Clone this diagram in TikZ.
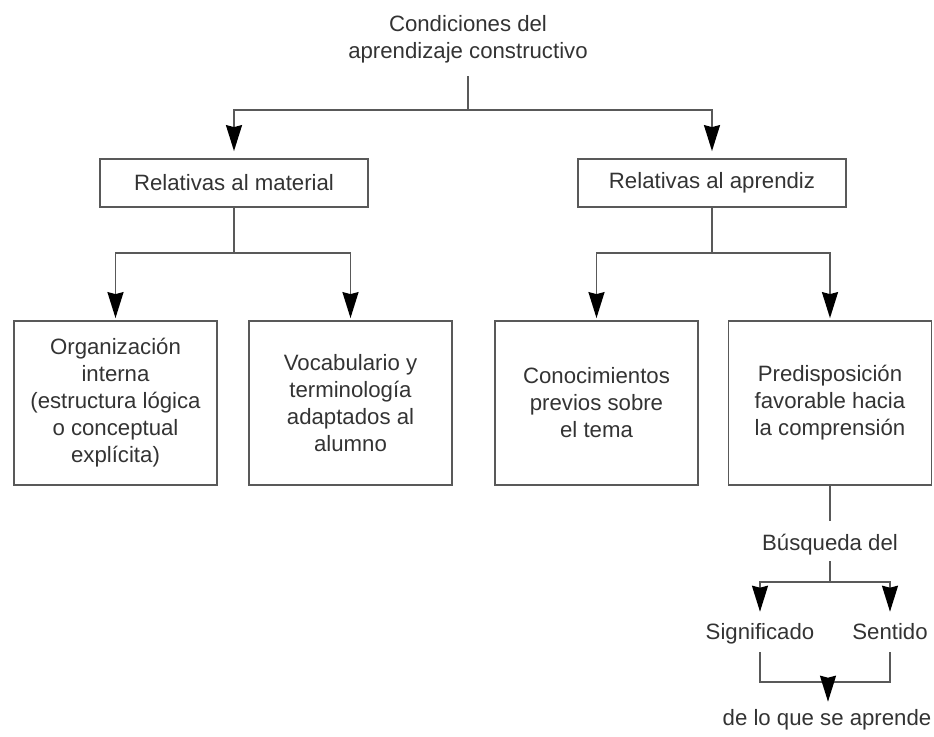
\documentclass[tikz,border=0pt]{standalone}
\usepackage{fontspec}
\setmainfont{Liberation Sans}
\usetikzlibrary{arrows.meta}
\definecolor{linegray}{gray}{0.35}
\definecolor{textgray}{gray}{0.2}
\def\boxwidth{101.5pt}

\begin{document}
\begin{tikzpicture}[x=0.5pt,y=-0.5pt,line width=0.9pt,draw=linegray,text=textgray,
    >={Stealth[length=13pt,width=8pt,inset=1pt,color=black]},
    font=\fontsize{11.1}{13.5}\selectfont]
    \tikzstyle{box}=[draw=linegray,rectangle,align=center]
    \tikzstyle{top box}=[box,minimum width=134pt,minimum height=24pt]
    \tikzstyle{bottom box}=[box,minimum width=\boxwidth,minimum height=82pt]
    \tikzstyle{tag}=[inner sep=2.5pt,text height=8.1pt,text depth=2.3pt]
    \tikzstyle{link}=[->,shorten >=1pt]

    \useasboundingbox (0,0) rectangle (934,736);

    % Root and the two groups
    \node[align=center] (title) at (468,39) {Condiciones del\\aprendizaje constructivo};
    \node[top box] (mat) at (234,183) {Relativas al material};
    \node[top box] (apr) at (712,183) {Relativas al aprendiz};

    % The four conditions
    \foreach \name/\x/\txt in {org/115.5/{Organización\\interna\\(estructura lógica\\o conceptual\\explícita)},
                              voc/350.5/{Vocabulario y\\terminología\\adaptados al\\alumno},
                              con/596.5/{Conocimientos\\previos sobre\\el tema},
                              pre/830/{Predisposición\\favorable hacia\\la comprensión}}
        \node[bottom box] (\name) at (\x,403) {\txt};

    % What the predisposition looks for
    \node[tag] (busq) at (830,545) {Búsqueda del};
    \node[tag] (sig) at (760,634) {Significado};
    \node[tag] (sen) at (890,634) {Sentido};
    \node[tag] (fin) at (827,720) {de lo que se aprende};

    \coordinate (t-split) at (468,110);
    \coordinate (m-split) at (234,253);
    \coordinate (a-split) at (712,253);
    \coordinate (b-split) at (830,582);
    \coordinate (join) at (828,682);

    % Connect the levels
    \draw[shorten <=3pt] (title.south) -- (t-split);
    \foreach \dest in {mat,apr}
        \draw[->,shorten >=3.5pt] (t-split) -| (\dest.north);
    \draw (mat.south) -- (m-split);
    \foreach \dest in {org,voc}
        \draw[link] (m-split) -| (\dest.north);
    \draw (apr.south) -- (a-split);
    \foreach \dest in {con,pre}
        \draw[link] (a-split) -| (\dest.north);

    \draw[shorten >=4pt] (pre.south) -- (busq.north);
    \draw (busq.south) -- (b-split);
    \foreach \dest in {sig,sen}
        \draw[->,shorten >=3pt] (b-split) -| (\dest.north);
    \foreach \source in {sig,sen}
        \draw[shorten <=1pt] (\source.south) |- (join);
    \draw[link] (join) -- (join |- fin.north);
\end{tikzpicture}
\end{document}
